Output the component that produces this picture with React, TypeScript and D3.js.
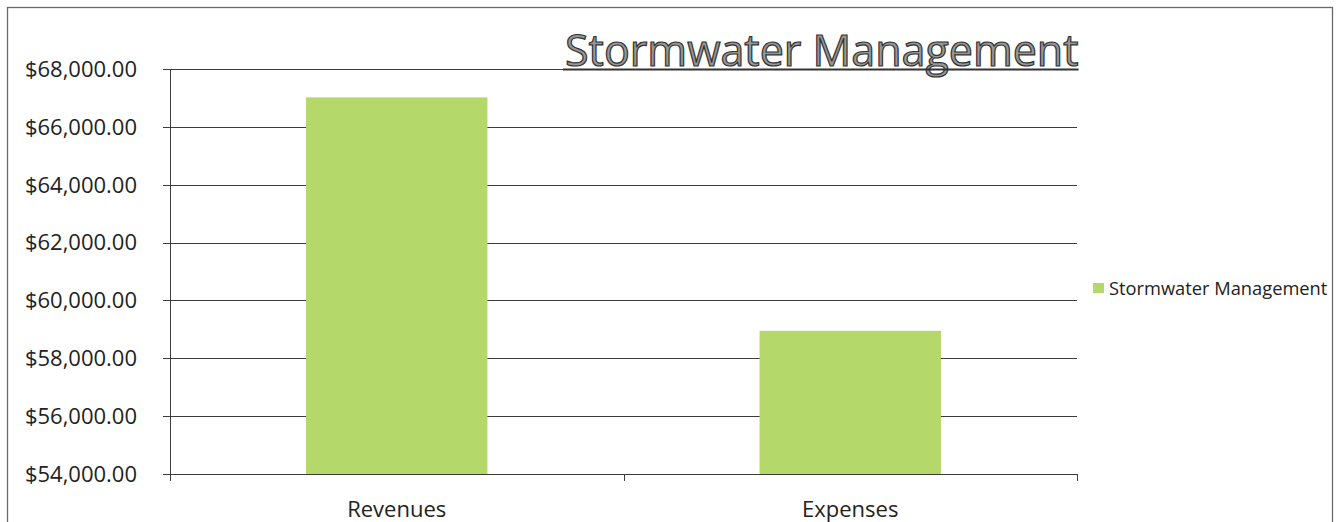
import React, { useEffect, useRef } from 'react';
import * as d3 from 'd3';

const categories = ['Revenues', 'Expenses'];
const values = [67020, 58950];
const yTicks = [54000, 56000, 58000, 60000, 62000, 64000, 66000, 68000];
const seriesName = 'Stormwater Management';
const chartTitle = 'Stormwater Management';

const App = () => {
    const ref = useRef<SVGSVGElement>(null);

    useEffect(() => {
        const svg = d3.select(ref.current);
        svg.selectAll('*').remove();

        const plot = { left: 170, right: 1077, top: 69, bottom: 474 };
        const font = "'Open Sans', 'Liberation Sans', sans-serif";
        const barColor = '#b5d86a';
        const lineColor = '#3c3c3c';

        // outer frame
        svg.append('rect')
            .attr('x', 7.5)
            .attr('y', 7.5)
            .attr('width', 1325)
            .attr('height', 530)
            .attr('fill', 'none')
            .attr('stroke', '#6a6a6a')
            .attr('stroke-width', 1.3);

        const x = d3.scaleBand()
            .domain(categories)
            .range([plot.left, plot.right])
            .paddingInner(0.6)
            .paddingOuter(0.3);

        const y = d3.scaleLinear()
            .domain([54000, 68000])
            .range([plot.bottom, plot.top]);

        // gridlines
        svg.append('g')
            .selectAll('line')
            .data(yTicks)
            .enter()
            .append('line')
            .attr('x1', plot.left - 7)
            .attr('x2', plot.right)
            .attr('y1', d => Math.round(y(d)) + 0.5)
            .attr('y2', d => Math.round(y(d)) + 0.5)
            .attr('stroke', lineColor)
            .attr('stroke-width', 1);

        // y tick labels
        const fmt = d3.format('$,.2f');
        svg.append('g')
            .selectAll('text')
            .data(yTicks)
            .enter()
            .append('text')
            .attr('x', 137)
            .attr('y', d => y(d))
            .attr('dy', '0.36em')
            .attr('text-anchor', 'end')
            .attr('font-family', font)
            .attr('font-size', 22)
            .attr('fill', '#222')
            .text(d => fmt(d));

        // y axis line
        svg.append('line')
            .attr('x1', plot.left + 0.5)
            .attr('x2', plot.left + 0.5)
            .attr('y1', plot.top)
            .attr('y2', plot.bottom + 6)
            .attr('stroke', lineColor);

        // x category boundary ticks
        const step = x.step();
        const bounds = [plot.left, plot.left + step, plot.right];
        svg.append('g')
            .selectAll('line')
            .data(bounds)
            .enter()
            .append('line')
            .attr('x1', d => Math.round(d) + 0.5)
            .attr('x2', d => Math.round(d) + 0.5)
            .attr('y1', plot.bottom)
            .attr('y2', plot.bottom + 7)
            .attr('stroke', lineColor);

        // bars
        svg.append('g')
            .selectAll('rect')
            .data(categories)
            .enter()
            .append('rect')
            .attr('x', d => x(d) as number)
            .attr('y', (d, i) => y(values[i]))
            .attr('width', x.bandwidth())
            .attr('height', (d, i) => plot.bottom - y(values[i]))
            .attr('fill', barColor);

        // x labels
        svg.append('g')
            .selectAll('text')
            .data(categories)
            .enter()
            .append('text')
            .attr('x', d => (x(d) as number) + x.bandwidth() / 2)
            .attr('y', 517)
            .attr('text-anchor', 'middle')
            .attr('font-family', font)
            .attr('font-size', 22)
            .attr('fill', '#222')
            .text(d => d);

        // legend
        svg.append('rect')
            .attr('x', 1093)
            .attr('y', 283)
            .attr('width', 11)
            .attr('height', 10)
            .attr('fill', barColor);

        svg.append('text')
            .attr('x', 1109)
            .attr('y', 295)
            .attr('font-family', font)
            .attr('font-size', 18.3)
            .attr('fill', '#222')
            .text(seriesName);

        // title
        const title = svg.append('text')
            .attr('x', 565)
            .attr('y', 66)
            .attr('font-family', font)
            .attr('font-size', 43)
            .attr('fill', '#979797')
            .attr('stroke', '#333')
            .attr('stroke-width', 1.2)
            .text(chartTitle);

        const tw = (title.node() as SVGTextElement).getComputedTextLength();
        svg.append('line')
            .attr('x1', 563)
            .attr('x2', 565 + tw)
            .attr('y1', 69.5)
            .attr('y2', 69.5)
            .attr('stroke', '#333')
            .attr('stroke-width', 2);
    }, []);

    return (
        <svg
            ref={ref}
            width={1341}
            height={522}
            style={{ position: 'absolute', left: 0, top: 0, background: '#fff' }}
        />
    );
};

export default App;
